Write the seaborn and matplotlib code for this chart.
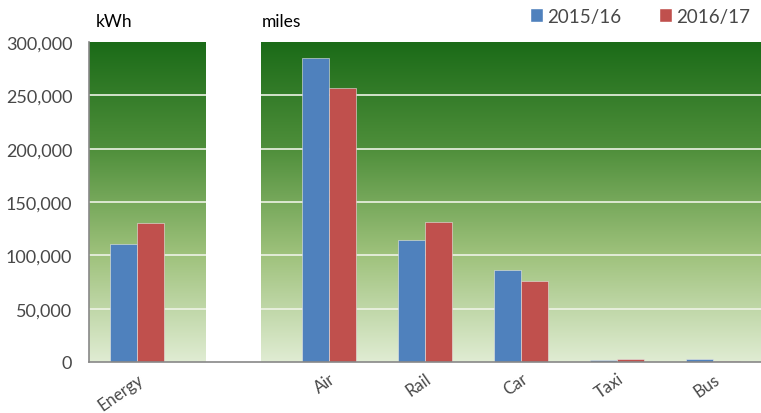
import numpy as np
import pandas as pd
import matplotlib
matplotlib.use('Agg')
import matplotlib.pyplot as plt
import seaborn as sns
from matplotlib.colors import LinearSegmentedColormap
from matplotlib.patches import Rectangle, Patch

# data
categories = ['Energy', ' ', 'Air', 'Rail', 'Car', 'Taxi', 'Bus']
years = ['2015/16', '2016/17']
values_1516 = [110500, np.nan, 285000, 114000, 86000, 2200, 2700]
values_1617 = [130500, np.nan, 256500, 131000, 76000, 3200, 1300]
yticks = [0, 50000, 100000, 150000, 200000, 250000, 300000]

df = pd.DataFrame({
    'category': categories * 2,
    'year': [years[0]] * len(categories) + [years[1]] * len(categories),
    'value': values_1516 + values_1617,
})

sns.set_style('white')
plt.rcParams['font.family'] = ['Lato', 'DejaVu Sans']

fig = plt.figure(figsize=(7.61, 4.14), dpi=100)
ax = fig.add_axes([89 / 761, 1 - 363 / 414, 672 / 761, 320 / 414])

colors = ['#4f81bd', '#c0504d']
sns.barplot(data=df, x='category', y='value', hue='year', order=categories,
            hue_order=years, palette=colors, saturation=1, width=0.56, ax=ax,
            edgecolor='#e6e6e6', linewidth=0.4, legend=False, zorder=3)

ax.set_xlim(-0.5, len(categories) - 0.5)
ax.set_ylim(0, 300000)

# gradient background, dark green at top
cmap = LinearSegmentedColormap.from_list('bg', ['#e0ecd3', '#9fc27c', '#4f8f3b', '#1b6b18'])
grad = np.linspace(0, 1, 256).reshape(-1, 1)
ax.imshow(grad, cmap=cmap, aspect='auto', origin='lower',
          extent=[-0.5, len(categories) - 0.5, 0, 300000], zorder=0)

for y in yticks[1:-1]:
    ax.axhline(y, color='#eef3e6', linewidth=1.2, zorder=1)

# white gap for the empty slot
ax.add_patch(Rectangle((0.72, 0), 0.57, 300000, facecolor='white',
                       edgecolor='none', zorder=2))

ax.set_yticks(yticks)
ax.set_yticklabels([f'{v:,}' for v in yticks], fontsize=13, color='#484848')
ax.set_xticks(range(len(categories)))
ax.set_xticklabels(categories, rotation=35, ha='right', rotation_mode='anchor',
                   fontsize=12, color='#484848')
ax.tick_params(axis='y', length=0, pad=12)
ax.tick_params(axis='x', length=0, pad=6)
ax.set_xlabel('')
ax.set_ylabel('')

for s in ['top', 'right']:
    ax.spines[s].set_visible(False)
for s in ['left', 'bottom']:
    ax.spines[s].set_color('#888888')
    ax.spines[s].set_linewidth(1.2)
    ax.spines[s].set_zorder(4)

fig.text(96 / 761, 1 - 22 / 414, 'kWh', fontsize=12.5, color='black', va='center')
fig.text(262 / 761, 1 - 22 / 414, 'miles', fontsize=12.5, color='black', va='center')

handles = [Patch(facecolor=c) for c in colors]
fig.legend(handles, years, loc='center', bbox_to_anchor=(640 / 761, 1 - 17 / 414),
           ncol=2, frameon=False, fontsize=13.5, handlelength=0.7, handleheight=0.7,
           handletextpad=0.2, columnspacing=2.0, labelcolor='#484848')

fig.savefig('out.png', dpi=100)
